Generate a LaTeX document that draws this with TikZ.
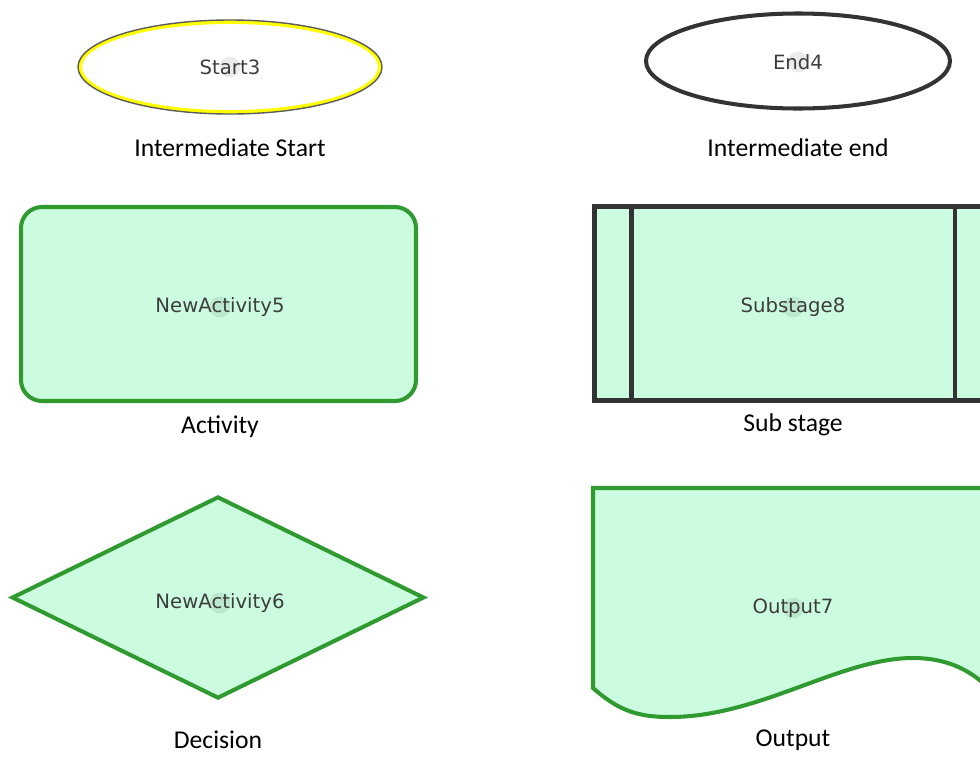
\documentclass[tikz,border=0pt]{standalone}
\usepackage{fontspec}
\setmainfont{Carlito}
\newfontfamily\shapefont{DejaVu Sans}
\usetikzlibrary{shapes.geometric}
\definecolor{leaf}{HTML}{2F9A2F}
\definecolor{mint}{HTML}{CCFCE0}
\definecolor{ink}{HTML}{333333}
\definecolor{lemon}{HTML}{FFFF00}
\definecolor{handle}{HTML}{000000}

\begin{document}
\begin{tikzpicture}[
  shapetext/.style={font=\shapefont\fontsize{11.2}{13}\selectfont,text=ink!95},
  caption/.style={font=\fontsize{14.6}{17}\selectfont,text=black},
  green/.style={draw=leaf,fill=mint,line width=2.3pt},
  dark/.style={draw=ink,line width=2.3pt},
  knob/.style={circle,fill=handle,fill opacity=0.08,minimum size=0.42cm,inner sep=0pt}]
  \useasboundingbox (0,0) rectangle (19.6,-15.12);
  \clip (0,0) rectangle (19.6,-15.12);
  % top row: ellipses
  \node[ellipse,draw=lemon,line width=2.2pt,minimum width=6.0cm,minimum height=1.8cm] (start) at (4.6,-1.34) {};
  \draw[ink!80,line width=0.8pt] (start.center) ellipse (3.04cm and 0.94cm);
  \node[ellipse,dark,fill=white,minimum width=6.08cm,minimum height=1.9cm] (end) at (15.96,-1.22) {};
  % middle row
  \node[rectangle,green,rounded corners=0.42cm,minimum width=7.9cm,minimum height=3.88cm] (act) at (4.37,-6.08) {};
  \node[rectangle,dark,fill=mint,minimum width=7.94cm,minimum height=3.88cm] (sub) at (15.86,-6.07) {};
  \draw[dark] ([xshift=0.78cm]sub.north west) -- ([xshift=0.78cm]sub.south west);
  \draw[dark] ([xshift=-0.78cm]sub.north east) -- ([xshift=-0.78cm]sub.south east);
  % bottom row
  \node[diamond,green,minimum width=8.25cm,minimum height=4.04cm,inner sep=0pt] (dec) at (4.36,-11.95) {};
  \draw[green] (11.86,-9.76) -- (11.86,-13.76)
    .. controls (12.4,-14.24) and (12.8,-14.34) .. (13.4,-14.34)
    .. controls (15.2,-14.34) and (16.8,-13.16) .. (18.26,-13.16)
    .. controls (19.0,-13.16) and (19.5,-13.45) .. (19.86,-13.86)
    -- (19.86,-9.76) -- cycle;
  \coordinate (out) at (15.86,-12.16);
  % handles and texts
  \foreach \n/\p/\t in {k1/{4.6,-1.34}/Start3,k2/{15.96,-1.24}/End4,k3/{4.4,-6.14}/NewActivity5,
      k4/{15.86,-6.14}/Substage8,k5/{4.4,-12.06}/NewActivity6,k6/{15.86,-12.16}/Output7} {
    \node[knob] (\n) at (\p) {};
    \node[shapetext] (\n t) at (\p) {\t};
  }
  \node[caption] (l1) at (4.6,-2.96) {Intermediate Start};
  \node[caption] (l2) at (15.96,-2.96) {Intermediate end};
  \node[caption] (l3) at (4.4,-8.54) {Activity};
  \node[caption] (l4) at (15.86,-8.5) {Sub stage};
  \node[caption] (l5) at (4.36,-14.8) {Decision};
  \node[caption] (l6) at (15.86,-14.8) {Output};
\end{tikzpicture}
\end{document}
